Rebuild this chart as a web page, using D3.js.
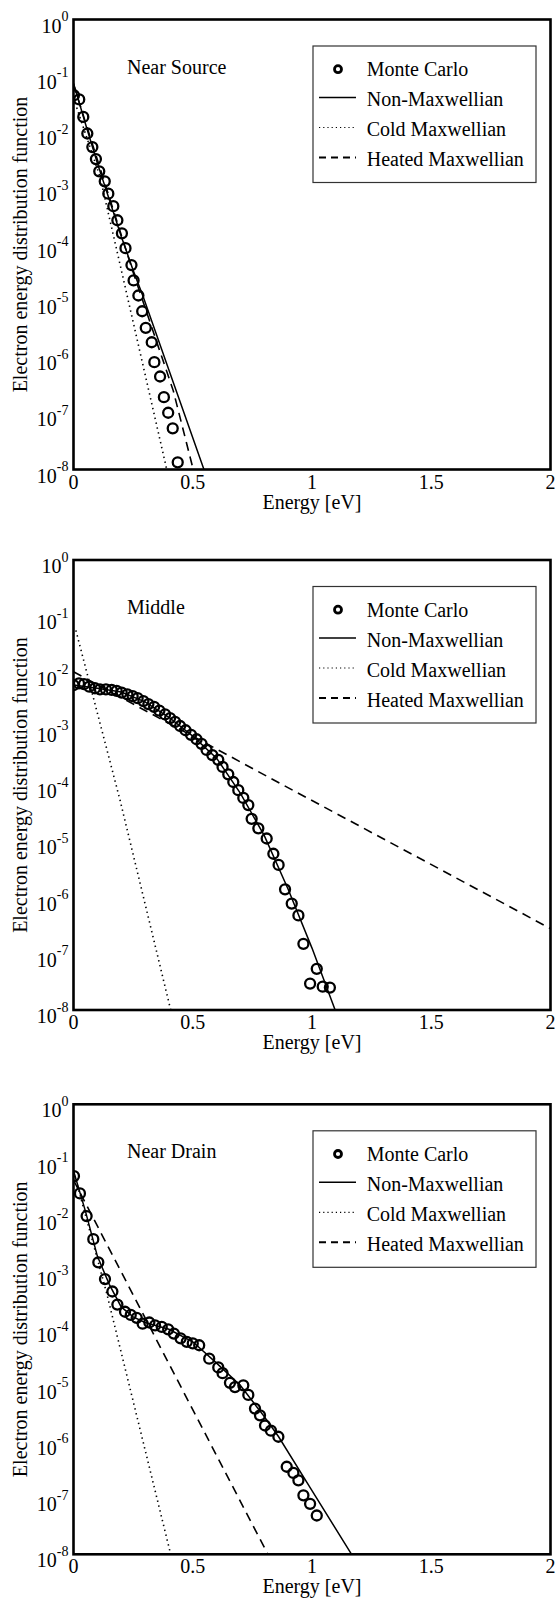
<!DOCTYPE html>
<html>
<head>
<meta charset="utf-8">
<script src="https://cdn.jsdelivr.net/npm/d3@7/dist/d3.min.js"></script>
<style>
  body { margin: 0; background: #fff; }
</style>
</head>
<body>
<svg id="chart" width="558" height="1600"></svg>
<script>
// ---- labels ----
const panelTitles = ["Near Source", "Middle", "Near Drain"];
const legendLabels = ["Monte Carlo", "Non-Maxwellian", "Cold Maxwellian", "Heated Maxwellian"];
const xTicks = [0, 0.5, 1, 1.5, 2];
const xTickLabels = ["0", "0.5", "1", "1.5", "2"];
const yTickExponents = [0, -1, -2, -3, -4, -5, -6, -7, -8];
const xTitle = "Energy [eV]";
const yTitle = "Electron energy distribution function";

// ---- Near Source: [energy eV, EEDF] ----
const nearSourceMC = [
  [0.002, 4.5e-2], [0.024, 3.8e-2], [0.041, 1.85e-2], [0.058, 9.4e-3], [0.079, 5.4e-3],
  [0.094, 3.3e-3], [0.108, 2.0e-3], [0.131, 1.33e-3], [0.146, 8.0e-4], [0.167, 4.8e-4],
  [0.184, 2.7e-4], [0.203, 1.58e-4], [0.218, 8.6e-5], [0.243, 4.3e-5], [0.252, 2.3e-5],
  [0.272, 1.24e-5], [0.288, 6.5e-6], [0.303, 3.3e-6], [0.328, 1.83e-6], [0.339, 8.1e-7],
  [0.363, 4.5e-7], [0.379, 1.93e-7], [0.397, 1.02e-7], [0.416, 5.4e-8], [0.437, 1.34e-8]
];
const nearSourceNonMax = [
  [0, 7.4e-2], [0.05, 1.4e-2], [0.1, 2.8e-3], [0.15, 6.3e-4], [0.2, 1.4e-4],
  [0.25, 3.5e-5], [0.293, 1.15e-5], [0.4, 5.9e-7], [0.547, 1e-8]
];
const nearSourceCold = [[0, 4.0e-2], [0.111, 1.6e-3], [0.188, 6.0e-5], [0.391, 1e-8]];
const nearSourceHeated = [[0, 7.0e-2], [0.25, 3.2e-5], [0.4185, 2.5e-7], [0.502, 1e-8]];

// ---- Middle ----
const middleMC = [
  [0.0, 5.97e-3], [0.023, 6.4e-3], [0.044, 6.2e-3], [0.066, 5.6e-3], [0.09, 5.25e-3],
  [0.111, 5.0e-3], [0.136, 5.0e-3], [0.16, 4.9e-3], [0.181, 4.7e-3], [0.202, 4.4e-3],
  [0.226, 4.1e-3], [0.248, 3.8e-3], [0.269, 3.5e-3], [0.293, 3.1e-3], [0.314, 2.75e-3],
  [0.338, 2.45e-3], [0.36, 2.1e-3], [0.384, 1.8e-3], [0.405, 1.55e-3], [0.426, 1.32e-3],
  [0.447, 1.12e-3], [0.47, 9.4e-4], [0.493, 7.8e-4], [0.516, 6.5e-4], [0.537, 5.4e-4],
  [0.558, 4.2e-4], [0.582, 3.4e-4], [0.607, 2.8e-4], [0.625, 2.1e-4], [0.649, 1.55e-4],
  [0.67, 1.13e-4], [0.691, 8.1e-5], [0.712, 5.9e-5], [0.733, 4.4e-5], [0.747, 2.5e-5],
  [0.775, 1.7e-5], [0.81, 1.12e-5], [0.838, 6.0e-6], [0.86, 3.8e-6], [0.887, 1.4e-6],
  [0.915, 7.8e-7], [0.943, 4.8e-7], [0.964, 1.5e-7], [0.992, 2.95e-8], [1.02, 5.4e-8],
  [1.045, 2.6e-8], [1.075, 2.5e-8]
];
const middleNonMax = [
  [0, 6.0e-3], [0.1, 5.25e-3], [0.2, 4.5e-3], [0.3, 3.0e-3], [0.4, 1.6e-3], [0.5, 7.4e-4],
  [0.6, 3.0e-4], [0.7, 7.1e-5], [0.8, 1.26e-5], [0.9, 1.4e-6], [1.0, 1.26e-7], [1.097, 1e-8]
];
const middleCold = [[0.01, 5.6e-2], [0.195, 5.4e-5], [0.4075, 1e-8]];
const middleHeated = [[0, 1.03e-2], [0.866, 1.07e-4], [2.0, 2.8e-7]];

// ---- Near Drain ----
const nearDrainMC = [
  [0.002, 5.3e-2], [0.027, 2.6e-2], [0.055, 1.03e-2], [0.083, 4.0e-3], [0.104, 1.55e-3],
  [0.132, 7.8e-4], [0.163, 4.7e-4], [0.184, 2.75e-4], [0.216, 2.05e-4], [0.24, 1.8e-4],
  [0.265, 1.6e-4], [0.29, 1.26e-4], [0.318, 1.32e-4], [0.342, 1.17e-4], [0.37, 1.1e-4],
  [0.397, 1.0e-4], [0.421, 8.4e-5], [0.449, 6.9e-5], [0.475, 6.0e-5], [0.5, 5.6e-5],
  [0.527, 5.2e-5], [0.569, 3.0e-5], [0.607, 2.1e-5], [0.625, 1.66e-5], [0.656, 1.12e-5],
  [0.677, 9.4e-6], [0.712, 1.01e-5], [0.733, 6.8e-6], [0.761, 3.9e-6], [0.782, 2.95e-6],
  [0.803, 1.95e-6], [0.828, 1.58e-6], [0.859, 1.23e-6], [0.894, 3.6e-7], [0.922, 2.8e-7],
  [0.943, 2.07e-7], [0.964, 1.12e-7], [0.992, 7.9e-8], [1.02, 4.9e-8]
];
const nearDrainNonMax = [
  [0, 6.6e-2], [0.05, 1.26e-2], [0.1, 2.0e-3], [0.15, 6.3e-4], [0.2, 2.5e-4], [0.25, 1.66e-4],
  [0.3, 1.32e-4], [0.4, 1.0e-4], [0.5, 6.0e-5], [0.6, 2.5e-5], [0.7, 1.0e-5], [0.8, 2.8e-6],
  [0.86, 1.23e-6], [1.0, 1.35e-7], [1.166, 1e-8]
];
const nearDrainCold = [[0, 6.5e-2], [0.139, 4.4e-4], [0.4075, 1e-8]];
const nearDrainHeated = [[0, 4.5e-2], [0.37, 4.3e-5], [0.815, 1e-8]];

const panels = [
  { title: panelTitles[0], top: 19.5,   mc: nearSourceMC, nonMax: nearSourceNonMax, cold: nearSourceCold, heated: nearSourceHeated },
  { title: panelTitles[1], top: 560,    mc: middleMC,     nonMax: middleNonMax,     cold: middleCold,     heated: middleHeated },
  { title: panelTitles[2], top: 1104.3, mc: nearDrainMC,  nonMax: nearDrainNonMax,  cold: nearDrainCold,  heated: nearDrainHeated }
];

// ---- geometry ----
const plotLeft = 73.5, plotRight = 550.5, plotHeight = 450;
const fontSize = 20;
const serif = "Liberation Serif";

const svg = d3.select("#chart");
const x = d3.scaleLinear().domain([0, 2]).range([plotLeft, plotRight]);

const styles = {
  nonMax: { dash: null, width: 1.5 },
  cold:   { dash: "1.4,3.6", width: 1.6 },
  heated: { dash: "9,6", width: 1.6 }
};

function label(sel, size) {
  return sel.append("text").attr("font-family", serif).attr("font-size", size || fontSize).attr("fill", "#000");
}

panels.forEach((p, i) => {
  const top = p.top, bottom = top + plotHeight;
  const y = d3.scaleLog().domain([1, 1e-8]).range([top, bottom]);
  const g = svg.append("g");

  const clipId = "clip" + i;
  g.append("clipPath").attr("id", clipId)
    .append("rect").attr("x", plotLeft).attr("y", top)
    .attr("width", plotRight - plotLeft).attr("height", plotHeight);

  const line = d3.line().x(d => x(d[0])).y(d => y(d[1]));
  const plot = g.append("g").attr("clip-path", `url(#${clipId})`);

  ["heated", "cold", "nonMax"].forEach(k => {
    plot.append("path")
      .datum(p[k])
      .attr("d", line)
      .attr("fill", "none")
      .attr("stroke", "#000")
      .attr("stroke-width", styles[k].width)
      .attr("stroke-dasharray", styles[k].dash);
  });

  plot.selectAll("circle.mc").data(p.mc).join("circle")
    .attr("class", "mc")
    .attr("cx", d => x(d[0])).attr("cy", d => y(d[1]))
    .attr("r", 5)
    .attr("fill", "none").attr("stroke", "#000").attr("stroke-width", 2.3);

  // frame
  g.append("rect")
    .attr("x", plotLeft).attr("y", top)
    .attr("width", plotRight - plotLeft).attr("height", plotHeight)
    .attr("fill", "none").attr("stroke", "#000").attr("stroke-width", 2.6);

  // y tick labels 10^n
  yTickExponents.forEach(e => {
    const t = label(g)
      .attr("x", 68.5).attr("y", y(Math.pow(10, e)) + 13)
      .attr("text-anchor", "end");
    t.append("tspan").text("10");
    t.append("tspan").attr("dy", -11.5).attr("font-size", 14).text(String(e));
  });

  // x tick labels
  xTicks.forEach((v, j) => {
    label(g)
      .attr("x", x(v)).attr("y", bottom + 19)
      .attr("text-anchor", "middle")
      .text(xTickLabels[j]);
  });

  // axis titles
  label(g)
    .attr("x", x(1)).attr("y", bottom + 39)
    .attr("text-anchor", "middle")
    .text(xTitle);
  label(g)
    .attr("transform", `translate(26.5,${(top + bottom) / 2}) rotate(-90)`)
    .attr("text-anchor", "middle")
    .text(yTitle);

  // panel title
  label(g)
    .attr("x", 127).attr("y", top + 54)
    .text(p.title);

  // legend
  const lg = g.append("g");
  lg.append("rect")
    .attr("x", 313).attr("y", top + 26.5)
    .attr("width", 223).attr("height", 136.5)
    .attr("fill", "#fff").attr("stroke", "#333").attr("stroke-width", 1.2);
  legendLabels.forEach((lab, j) => {
    const base = top + 56.7 + 30 * j;
    label(lg)
      .attr("x", 366.7).attr("y", base)
      .text(lab);
    const my = base - 8.7;
    if (j === 0) {
      lg.append("circle").attr("cx", 338).attr("cy", base - 7)
        .attr("r", 3.5).attr("fill", "none").attr("stroke", "#000").attr("stroke-width", 2.8);
    } else {
      const k = ["nonMax", "cold", "heated"][j - 1];
      lg.append("line")
        .attr("x1", 319).attr("x2", 356).attr("y1", my).attr("y2", my)
        .attr("stroke", "#000")
        .attr("stroke-width", k === "heated" ? 2 : (k === "cold" ? 1.2 : 1.5))
        .attr("stroke-dasharray", k === "heated" ? "7,5" : (k === "cold" ? "1.2,3" : null));
    }
  });
});
</script>
</body>
</html>
